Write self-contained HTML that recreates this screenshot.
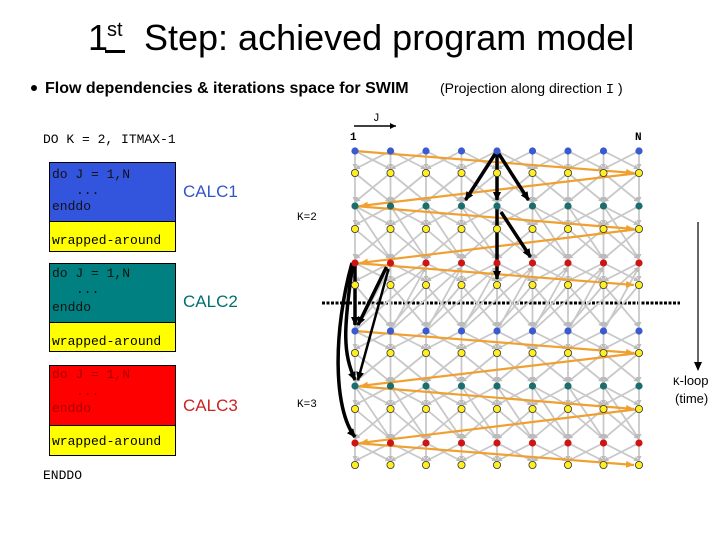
<!DOCTYPE html>
<html><head><meta charset="utf-8"><style>
body{margin:0;background:#fff;width:720px;height:540px;overflow:hidden;font-family:"Liberation Sans",sans-serif}
</style></head><body>
<svg id="s" width="720" height="540" viewBox="0 0 720 540" xmlns="http://www.w3.org/2000/svg">
<defs>
<marker id="ag" markerUnits="userSpaceOnUse" markerWidth="5" markerHeight="5" refX="5" refY="2.5" orient="auto"><path d="M0,0L5,2.5L0,5z" fill="#bbb"/></marker>
<marker id="ao" markerUnits="userSpaceOnUse" markerWidth="8" markerHeight="7" refX="8" refY="3.5" orient="auto"><path d="M0,0L8,3.5L0,7z" fill="#f0a030"/></marker>
<marker id="ab" markerUnits="userSpaceOnUse" markerWidth="6" markerHeight="6" refX="6" refY="3" orient="auto"><path d="M0,0L6,3L0,6z" fill="#000"/></marker>
<marker id="ak" markerUnits="userSpaceOnUse" markerWidth="9" markerHeight="8" refX="8" refY="4" orient="auto"><path d="M0,0L9,4L0,8z" fill="#000"/></marker>
</defs>
<g>
<text x="88" y="50" font-size="36" fill="#000">1</text>
<text x="107" y="36" font-size="20" fill="#000">st</text>
<rect x="105" y="50" width="20" height="3" fill="#000"/>
<text x="144" y="50" font-size="36" fill="#000">Step: achieved program model</text>
</g>
<circle cx="34" cy="88" r="3" fill="#000"/>
<text x="45" y="93" font-size="16" font-weight="bold" fill="#000">Flow dependencies &amp; iterations space for SWIM</text>
<text x="440" y="93" font-size="14" fill="#000">(Projection along direction <tspan font-family="Liberation Mono">I</tspan> )</text>
<g font-family="Liberation Mono" font-size="13" fill="#000">
<text x="43" y="143">DO K = 2, ITMAX-1</text>
<text x="43" y="479">ENDDO</text>
</g>
<g>
<rect x="49.5" y="162.5" width="126" height="59" fill="#3355dd" stroke="#000"/>
<rect x="49.5" y="221.5" width="126" height="30" fill="#ffff00" stroke="#000"/>
</g>
<g>
<rect x="49.5" y="263.5" width="126" height="59" fill="#008080" stroke="#000"/>
<rect x="49.5" y="322.5" width="126" height="29" fill="#ffff00" stroke="#000"/>
</g>
<g>
<rect x="49.5" y="365.5" width="126" height="60" fill="#ff0000" stroke="#000"/>
<rect x="49.5" y="425.5" width="126" height="30" fill="#ffff00" stroke="#000"/>
</g>
<g font-family="Liberation Mono" font-size="13">
<text x="52" y="178" fill="#111">do J = 1,N</text><text x="76" y="194" fill="#111">...</text><text x="52" y="210" fill="#111">enddo</text>
<text x="52" y="244" fill="#000">wrapped-around</text>
<text x="52" y="277" fill="#111">do J = 1,N</text><text x="76" y="293" fill="#111">...</text><text x="52" y="311" fill="#111">enddo</text>
<text x="52" y="345" fill="#000">wrapped-around</text>
<text x="52" y="378" fill="#a00">do J = 1,N</text><text x="76" y="395" fill="#a00">...</text><text x="52" y="412" fill="#a00">enddo</text>
<text x="52" y="445" fill="#000">wrapped-around</text>
</g>
<g font-size="17">
<text x="183" y="197" fill="#3355cc">CALC1</text>
<text x="183" y="307" fill="#007070">CALC2</text>
<text x="183" y="411" fill="#cc2222">CALC3</text>
</g>
<g font-family="Liberation Mono" font-size="11" fill="#000">
<text x="297" y="220">K=2</text>
<text x="297" y="407">K=3</text>
<text x="373" y="121">J</text>
<text x="350" y="140" font-weight="bold">1</text>
<text x="635" y="140" font-weight="bold">N</text>
</g>
<line x1="354" y1="126" x2="396" y2="126" stroke="#000" stroke-width="1.5" marker-end="url(#ab)"/>
<line x1="322" y1="303" x2="680" y2="303" stroke="#000" stroke-width="3" stroke-dasharray="3,1.5"/>
<line x1="698" y1="222" x2="698" y2="370" stroke="#000" stroke-width="1.2" marker-end="url(#ak)"/>
<text x="673" y="385" font-size="13" fill="#000"><tspan font-family="Liberation Mono" font-size="11">K</tspan>-loop</text>
<text x="675" y="403" font-size="13" fill="#000">(time)</text>
<g id="gray"></g><g id="orange"></g><g id="black"></g><g id="nodes"></g>
</svg>
<script>
const columns = [1,2,3,4,5,6,7,8,9];
const rowKinds = ['blue','yellow','teal','yellow','red','yellow','blue','yellow','teal','yellow','red','yellow'];
const rowY = [151,173,206,229,263,285,331,353,386,409,443,465];
const colors = {blue:'#3a5ad0',yellow:'#ffee22',teal:'#1a6e6e',red:'#cc1515'};
const NS='http://www.w3.org/2000/svg';
function X(j){return 355+(j-1)*35.5;}
function Y(r){return rowY[r];}
function mk(t,a,p){const e=document.createElementNS(NS,t);for(const k in a)e.setAttribute(k,a[k]);p.appendChild(e);return e;}
const G=document.getElementById('gray'),O=document.getElementById('orange'),B=document.getElementById('black'),Nd=document.getElementById('nodes');
function gl(x1,y1,x2,y2){const e=mk('line',{x1,y1,x2,y2,stroke:'#c8c8c8','stroke-width':1.8,'marker-end':'url(#ag)'},G);

}
for(let r=0;r<rowKinds.length-1;r++){
  columns.forEach(j=>{
    [-1,0,1].forEach(d=>{const k=j+d;if(k<1||k>columns.length)return;
      gl(X(j),Y(r),X(k),Y(r+1)-4);});
    if(rowKinds[r]==='teal'){ if(j+1<=9) gl(X(j),Y(r),X(j+1),Y(r+2)-4); }
    if(rowKinds[r]==='red' && r+2<rowKinds.length){[-1,-2].forEach(d=>{const k=j+d;if(k>=1)gl(X(k),Y(r+2),X(j),Y(r)+4);});}
  });
}
function ol(x1,y1,x2,y2){const e=mk('line',{x1,y1,x2,y2,stroke:'#f0a030','stroke-width':2.2,'marker-end':'url(#ao)'},O);

}
for(let r=0;r<rowKinds.length-1;r++){
  if(rowKinds[r]!=='yellow') ol(X(1),Y(r),X(9)-5,Y(r+1));
  else if(rowKinds[r+1]!=='blue') ol(X(9),Y(r),X(1)+5,Y(r+1));
}
function bl(d,w){const e=mk('path',{d,fill:'none',stroke:'#000','stroke-width':w||3.5,'marker-end':'url(#ak)'},B);

}
bl(`M${X(5)},${Y(0)} L${X(4)+4},${Y(2)-6}`);
bl(`M${X(5)},${Y(0)} L${X(5)},${Y(2)-6}`);
bl(`M${X(5)},${Y(0)} L${X(6)-4},${Y(2)-6}`);
bl(`M${X(5)},${Y(2)} L${X(5)},${Y(5)-6}`);
bl(`M${X(5)+4},${Y(2)+6} L${X(6)-2},${Y(4)-6}`);
bl(`M${X(1)},${Y(4)} L${X(1)},${Y(6)-6}`);
bl(`M${X(1)-2},${Y(4)} C${X(1)-12},${Y(6)} ${X(1)-12},${Y(7)} ${X(1)},${Y(8)-6}`);
bl(`M${X(1)-3},${Y(4)} C${X(1)-22},${Y(6)} ${X(1)-22},${Y(9)} ${X(1)},${Y(10)-6}`);
bl(`M${X(2)-4},${Y(4)+4} L${X(1)+3},${Y(6)-6}`);
bl(`M${X(2)-2},${Y(4)+6} L${X(1)+3},${Y(8)-6}`,2.5);
rowKinds.forEach((k,r)=>columns.forEach(j=>{
  const c=mk('circle',{cx:X(j),cy:Y(r),r:3.6,fill:colors[k],stroke:k==='yellow'?'#333':'none','stroke-width':0.8},Nd);
  
  
}));
</script>
</body></html>
